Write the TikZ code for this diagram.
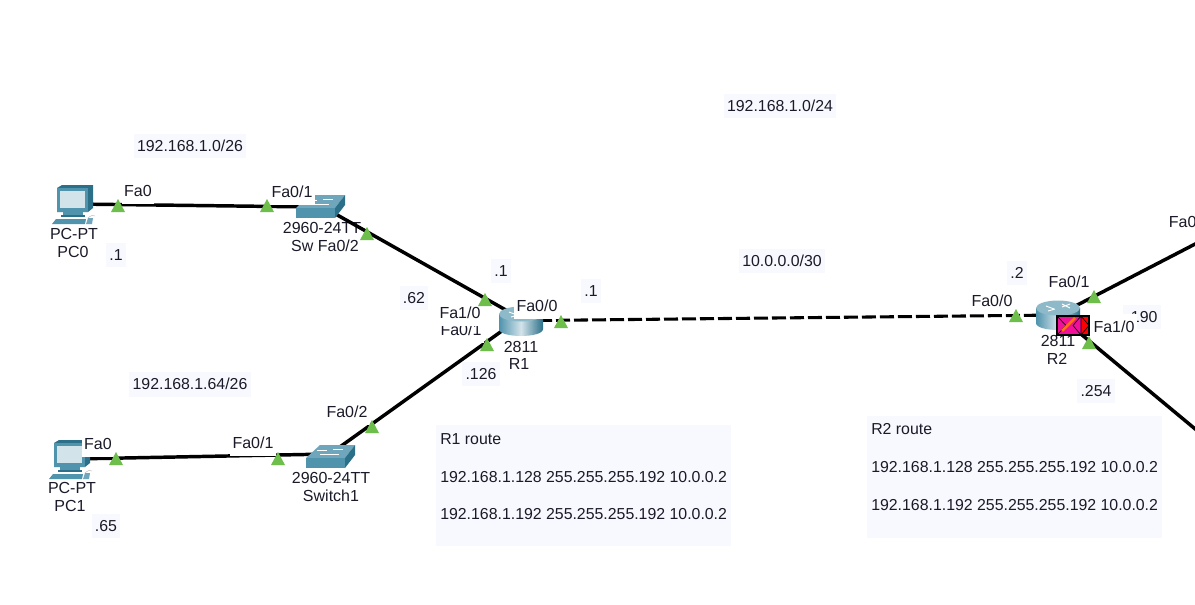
\documentclass[tikz,border=0pt]{standalone}
\usepackage{fontspec}
\setmainfont{Liberation Sans}
\definecolor{notebg}{HTML}{F8F9FE}
\definecolor{portgreen}{HTML}{6DBE4B}
\definecolor{teal1}{HTML}{4F93AD}
\definecolor{teal2}{HTML}{6FA6BB}
\definecolor{teal3}{HTML}{2B7088}
\definecolor{teal4}{HTML}{D3E3EA}
\definecolor{rtop}{HTML}{8DB9C9}
\definecolor{magentax}{HTML}{F0109A}
\definecolor{inkd}{HTML}{1A1A28}
\tikzset{
  x=0.75pt,y=-0.75pt,
  link/.style={draw=black,line width=2.6pt},
  dashlink/.style={draw=black,line width=2.3pt,dash pattern=on 10.5pt off 3pt},
  anchorbox/.style={inner sep=0pt,minimum size=2pt},
  note/.style={fill=notebg,inner xsep=2.5pt,inner ysep=5pt,font=\fontsize{11.9}{14}\selectfont,text=inkd},
  routebox/.style={fill=notebg,inner sep=0pt},
  routetext/.style={anchor=north west,align=left,inner sep=0pt,font=\fontsize{11.9}{28.4}\selectfont,text=inkd},
  port/.style={fill=white,inner xsep=2pt,inner ysep=0pt,minimum height=19pt,font=\fontsize{12}{13}\selectfont,text=inkd},
  devlab/.style={inner sep=0pt,font=\fontsize{12}{13}\selectfont,text=inkd},
  whitelab/.style={devlab,fill=white,inner xsep=1pt,inner ysep=0pt,minimum height=19.5pt},
  tri/.style={fill=portgreen,draw=none},
  pics/porttri/.style={code={\fill[tri] (0,0) -- (7,13) -- (-7,13) -- cycle;}},
  pics/pcicon/.style={code={
    \fill[teal3] (0,0) -- (5,-3) -- (36,-3) -- (36,20) -- (31,24) -- (0,24) -- cycle;
    \fill[teal1] (0,0) rectangle (31,24);
    \fill[teal4] (3,3) rectangle (28,20);
    \fill[teal1] (6,24) rectangle (26,27);
    \fill[teal3] (4,27) rectangle (28,29);
    \fill[teal1] (-5,36) -- (-1,31) -- (29,31) -- (28,36) -- cycle;
    \fill[teal2] (31,30) -- (36,30) -- (35,36) -- (29,36) -- cycle;
    \draw[gray!60,line width=.3pt] (31,30) .. controls (34,27) and (37,27) .. (38,28);
  }},
  pics/swicon/.style={code={
    \fill[teal2] (0,0) -- (14,-13) -- (49,-13) -- (39,0) -- cycle;
    \fill[teal1] (0,0) rectangle (39,10);
    \fill[teal3] (39,0) -- (49,-13) -- (49,-3) -- (39,10) -- cycle;
    \draw[white,line width=.5pt] (14,-4) -- (24,-4) (27,-9) -- (37,-9) (11,-8) -- (21,-8) (24,-4) -- (33,-4);
  }},
  pics/rticon/.style={code={
    \shade[left color=teal1,right color=teal3,middle color=teal4]
      (-22,0) -- (-22,15) .. controls (-22,24.3) and (22,24.3) .. (22,15) -- (22,0) -- cycle;
    \fill[rtop] (0,0) ellipse[x radius=22,y radius=7.5];
    \draw[white,line width=.7pt] (-12,-2) -- (-4,1) (4,-1) -- (12,-4) (-10,3) -- (-3,1) (4,-4) -- (12,0);
  }},
}
\begin{document}
\begin{tikzpicture}
\useasboundingbox (0,0) rectangle (1195,604);
\clip (0,0) rectangle (1195,604);
\fill[white] (0,0) rectangle (1195,604);

% anchors for devices
\node[anchorbox] (PC0) at (75,204) {};
\node[anchorbox] (PC1) at (72,459) {};
\node[anchorbox] (SW0) at (316,203) {};
\node[anchorbox] (SW1) at (330,454) {};
\node[anchorbox] (R1) at (520,318) {};
\node[anchorbox] (R2) at (1058,315) {};
\coordinate (endA) at (1200,241.5);
\coordinate (endB) at (1200,433);

% notes
\node[note] (n1) at (190,146) {192.168.1.0/26};
\node[note] (n2) at (780,106) {192.168.1.0/24};
\node[note] (n3) at (782,261) {10.0.0.0/30};
\node[note] (n4) at (190,384) {192.168.1.64/26};
\node[note] (a1) at (116,255) {.1};
\node[note] (a2) at (106,526) {.65};
\node[note] (a3) at (414,298) {.62};
\node[note] (a4) at (501,271) {.1};
\node[note] (a5) at (591,291) {.1};
\node[note] (a6) at (481,374) {.126};
\node[note] (a7) at (1017,273) {.2};
\node[note] (a8) at (1142,317) {.190};
\node[note] (a9) at (1096,391) {.254};

\node[routebox,minimum width=221.25pt,minimum height=90.75pt] (rb1) at (583.5,485.5) {};
\node[routetext] (rt1) at (440,433) {R1 route\\192.168.1.128 255.255.255.192 10.0.0.2\\192.168.1.192 255.255.255.192 10.0.0.2};
\node[routebox,minimum width=221.25pt,minimum height=91.5pt] (rb2) at (1014.5,477) {};
\node[routetext] (rt2) at (871,423.5) {R2 route\\192.168.1.128 255.255.255.192 10.0.0.2\\192.168.1.192 255.255.255.192 10.0.0.2};

% device labels under links
\node[devlab] (lb1) at (74,234) {PC-PT};
\node[devlab] (lb2) at (73,252) {PC0};
\node[devlab] (lb3) at (72,488) {PC-PT};
\node[devlab] (lb4) at (70,506) {PC1};
\node[devlab] (lb5) at (322,228) {2960-24TT};
\node[devlab] (lb6) at (331,478) {2960-24TT};
\node[devlab] (lb7) at (331,496) {Switch1};
\node[devlab] (lb8) at (521,347) {2811};
\node[devlab] (lb9) at (519,364) {R1};
\node[devlab] (lb10) at (1058,341) {2811};
\node[devlab] (lb11) at (1057,359) {R2};

% links
\draw[link] (PC0.center) -- ([yshift=-3pt]SW0.center);
\draw[link] (PC1.center) -- (SW1.center);
\draw[link] (SW0.center) -- (R1.center);
\draw[link] (SW1.center) -- (R1.center);
\draw[dashlink] ([yshift=-2pt]R1.center) -- (R2.center);
\draw[link] (R2.center) -- (endA);
\draw[link] (R2.center) -- (endB);

% icons
\pic at (57,188) {pcicon};
\pic at (54,443) {pcicon};
\pic at (296,208) {swicon};
\pic at (306,458) {swicon};
\pic at (521,314) {rticon};
\pic at (1058,308) {rticon};

% R2 red marker
\fill[magentax] (1057,316) rectangle (1081,335);
\fill[red] (1081,316) rectangle (1089,335);
\draw[black,line width=.9pt] (1057,316) rectangle (1089,335);
\draw[black,line width=.5pt] (1081,316) -- (1081,335) (1081,316) -- (1089,325.5) -- (1081,335) (1081,316) -- (1073,325.5) -- (1081,335);
\draw[black,line width=.5pt] (1057,316) -- (1066,325.5) -- (1057,335);
\draw[orange!90!red,line width=2pt] (1062,331) -- (1075,318);

% port labels (white backed)
\node[whitelab] (lb12) at (325,246) {Sw Fa0/2};
\node[port] (p1) at (138,191) {Fa0};
\node[port] (p2) at (292,192) {Fa0/1};
\node[port] (p3) at (461,330) {Fa0/1};
\node[port] (p4) at (460,313) {Fa1/0};
\node[port] (p5) at (537,306) {Fa0/0};
\node[port] (p6) at (992,301) {Fa0/0};
\node[port] (p7) at (1069,282) {Fa0/1};
\node[port] (p8) at (1114,327) {Fa1/0};
\node[port,anchor=west] (p9) at (1166,222) {Fa0};
\node[port] (p10) at (98,444) {Fa0};
\node[port] (p11) at (253,443) {Fa0/1};
\node[port] (p12) at (347,412) {Fa0/2};

% port triangles
\pic at (118,199) {porttri};
\pic at (267,199) {porttri};
\pic at (367,227) {porttri};
\pic at (485,293) {porttri};
\pic at (561,315) {porttri};
\pic at (487,338) {porttri};
\pic at (1016,309) {porttri};
\pic at (1094,290) {porttri};
\pic at (1089,336) {porttri};
\pic at (372,420) {porttri};
\pic at (278,452) {porttri};
\pic at (116,452) {porttri};
\end{tikzpicture}
\end{document}
